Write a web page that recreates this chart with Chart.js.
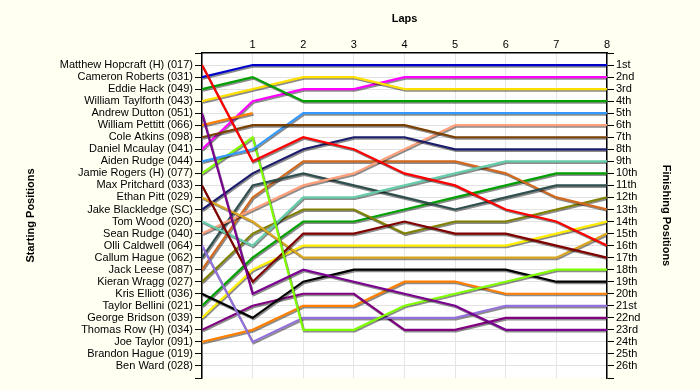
<!DOCTYPE html>
<html>
<head>
<meta charset="utf-8">
<script src="https://cdn.jsdelivr.net/npm/chart.js@4.4.1/dist/chart.umd.min.js"></script>
<style>
  html, body { margin: 0; padding: 0; background: #fffff2; }
  #wrap { width: 700px; height: 390px; position: relative; }
</style>
</head>
<body>
<div id="wrap"><canvas id="c"></canvas></div>
<script>
// ---- data ----
const laps = [0, 1, 2, 3, 4, 5, 6, 7, 8];
const lapTickLabels = ['', '1', '2', '3', '4', '5', '6', '7', '8'];

const startingLabels = [
  'Matthew Hopcraft (H) (017)', 'Cameron Roberts (031)', 'Eddie Hack (049)', 'William Taylforth (043)',
  'Andrew Dutton (051)', 'William Pettitt (066)', 'Cole Atkins (098)', 'Daniel Mcaulay (041)',
  'Aiden Rudge (044)', 'Jamie Rogers (H) (077)', 'Max Pritchard (033)', 'Ethan Pitt (029)',
  'Jake Blackledge (SC)', 'Tom Wood (020)', 'Sean Rudge (040)', 'Olli Caldwell (064)',
  'Callum Hague (062)', 'Jack Leese (087)', 'Kieran Wragg (027)', 'Kris Elliott (036)',
  'Taylor Bellini (021)', 'George Bridson (039)', 'Thomas Row (H) (034)', 'Joe Taylor (091)',
  'Brandon Hague (019)', 'Ben Ward (028)'
];
const finishingLabels = [
  '1st', '2nd', '3rd', '4th', '5th', '6th', '7th', '8th', '9th', '10th', '11th', '12th', '13th',
  '14th', '15th', '16th', '17th', '18th', '19th', '20th', '21st', '22nd', '23rd', '24th', '25th', '26th'
];

// positions per lap (lap 0 = grid)
const hopcraft   = [1, 9, 7, 8, 10, 11, 13, 14, 16];
const roberts    = [2, 1, 1, 1, 1, 1, 1, 1, 1];
const hack       = [3, 2, 4, 4, 4, 4, 4, 4, 4];
const taylforth  = [4, 3, 2, 2, 3, 3, 3, 3, 3];
const dutton     = [5, 20, 18, 19, 20, 21, 23, 23, 23];
const pettitt    = [6, 5, null, null, null, null, null, null, null];
const atkins     = [7, 6, 6, 6, 6, 7, 7, 7, 7];
const mcaulay    = [8, 4, 3, 3, 2, 2, 2, 2, 2];
const aidenRudge = [9, 8, 5, 5, 5, 5, 5, 5, 5];
const rogers     = [10, 7, 23, 23, 21, 20, 19, 18, 18];
const pritchard  = [11, 19, 15, 15, 14, 15, 15, 16, 17];
const pitt       = [12, 14, 17, 17, 17, 17, 17, 17, 15];
const blackledge = [13, 10, 8, 7, 7, 8, 8, 8, 8];
const wood       = [14, 16, 12, 12, 11, 10, 9, 9, 9];
const seanRudge  = [15, 13, 11, 10, 8, 6, 6, 6, 6];
const caldwell   = [16, 24, 22, 22, 22, 22, 21, 21, 21];
const callumHague= [17, 11, 10, 11, 12, 13, 12, 11, 11];
const leese      = [18, 12, 9, 9, 9, 9, 10, 12, 13];
const wragg      = [19, 15, 13, 13, 15, 14, 14, 13, 12];
const elliott    = [20, 22, 19, 18, 18, 18, 18, 19, 19];
const bellini    = [21, 17, 14, 14, 13, 12, 11, 10, 10];
const bridson    = [22, 18, 16, 16, 16, 16, 16, 15, 14];
const row        = [23, 21, 20, 20, 23, 23, 22, 22, 22];
const joeTaylor  = [24, 23, 21, 21, 19, 19, 20, 20, 20];

const series = [hopcraft, roberts, hack, taylforth, dutton, pettitt, atkins, mcaulay, aidenRudge,
  rogers, pritchard, pitt, blackledge, wood, seanRudge, caldwell, callumHague, leese, wragg,
  elliott, bellini, bridson, row, joeTaylor];
const colors = ['#ff0000', '#0000cc', '#00a000', '#ffe000', '#7a0090', '#ff8000', '#7b3f00', '#ff00ff',
  '#3399ff', '#80ff00', '#800000', '#daa520', '#1c1c6c', '#66cdaa', '#ffa07a', '#9370db', '#2f4f4f',
  '#d2691e', '#808000', '#000000', '#00a000', '#ffee00', '#800080', '#ff8000'];

// ---- chart ----
Chart.defaults.font.family = "'Liberation Sans', Arial, sans-serif";
Chart.defaults.font.size = 11;
Chart.defaults.color = '#000';

const datasets = series.map((s, k) => ({
  label: startingLabels[k],
  data: s.map((v, i) => ({ x: laps[i], y: v })),
  borderColor: colors[k],
  backgroundColor: colors[k],
  borderWidth: 2.2,
  pointRadius: 0,
  tension: 0,
  fill: false,
  spanGaps: false,
  yAxisID: 'y'
}));

const lookPlugin = {
  id: 'look',
  beforeDraw(chart) {
    const { ctx, chartArea: a } = chart;
    ctx.save();
    ctx.fillStyle = '#ffffff';
    ctx.fillRect(a.left, a.top, a.right - a.left, a.bottom - a.top);
    ctx.restore();
  },
  beforeDatasetDraw(chart) {
    const ctx = chart.ctx;
    ctx.save();
    ctx.shadowColor = 'rgba(0,0,0,0.45)';
    ctx.shadowOffsetX = 1;
    ctx.shadowOffsetY = 1.5;
    ctx.shadowBlur = 0;
  },
  afterDatasetDraw(chart) {
    chart.ctx.restore();
  }
};

const gridColor = (ctx) => (ctx.tick && (ctx.tick.value === 0 || ctx.tick.value === 27)) ? 'rgba(0,0,0,0)' : '#e2e2e2';

new Chart(document.getElementById('c'), {
  type: 'line',
  data: { datasets },
  plugins: [lookPlugin],
  options: {
    responsive: true,
    maintainAspectRatio: false,
    animation: false,
    layout: { padding: { left: 0, right: 0, top: 0, bottom: 12 } },
    plugins: { legend: { display: false }, tooltip: { enabled: false } },
    scales: {
      x: {
        type: 'linear',
        position: 'top',
        min: 0, max: 8,
        afterFit: (s) => { s.height = 53; },
        ticks: { stepSize: 1, padding: 1, autoSkip: false, maxRotation: 0,
          callback: (v) => lapTickLabels[v] },
        grid: { color: '#e6e6e6', drawTicks: false },
        border: { color: '#000', width: 1.5 },
        title: { display: true, text: 'Laps', font: { weight: 'bold', size: 11 }, padding: { top: 12, bottom: 0 } }
      },
      y: {
        type: 'linear',
        position: 'left',
        min: 0, max: 27, reverse: true,
        afterFit: (s) => { s.width = 202; },
        ticks: { stepSize: 1, autoSkip: false, padding: 2,
          callback: (v) => startingLabels[v - 1] || '' },
        grid: { color: gridColor, tickColor: '#000', tickLength: 7 },
        border: { color: '#000', width: 1.5 },
        title: { display: true, text: 'Starting Positions', font: { weight: 'bold', size: 11 }, padding: { top: 24, bottom: 0 } }
      },
      y2: {
        type: 'linear',
        position: 'right',
        min: 0, max: 27, reverse: true,
        afterFit: (s) => { s.width = 93; },
        ticks: { stepSize: 1, autoSkip: false, padding: 2,
          callback: (v) => finishingLabels[v - 1] || '' },
        grid: { drawOnChartArea: false, tickColor: '#000', tickLength: 7 },
        border: { color: '#000', width: 1.5 },
        title: { display: true, text: 'Finishing Positions', font: { weight: 'bold', size: 11 }, padding: { top: 27, bottom: 0 } }
      }
    }
  }
});
</script>
</body>
</html>
